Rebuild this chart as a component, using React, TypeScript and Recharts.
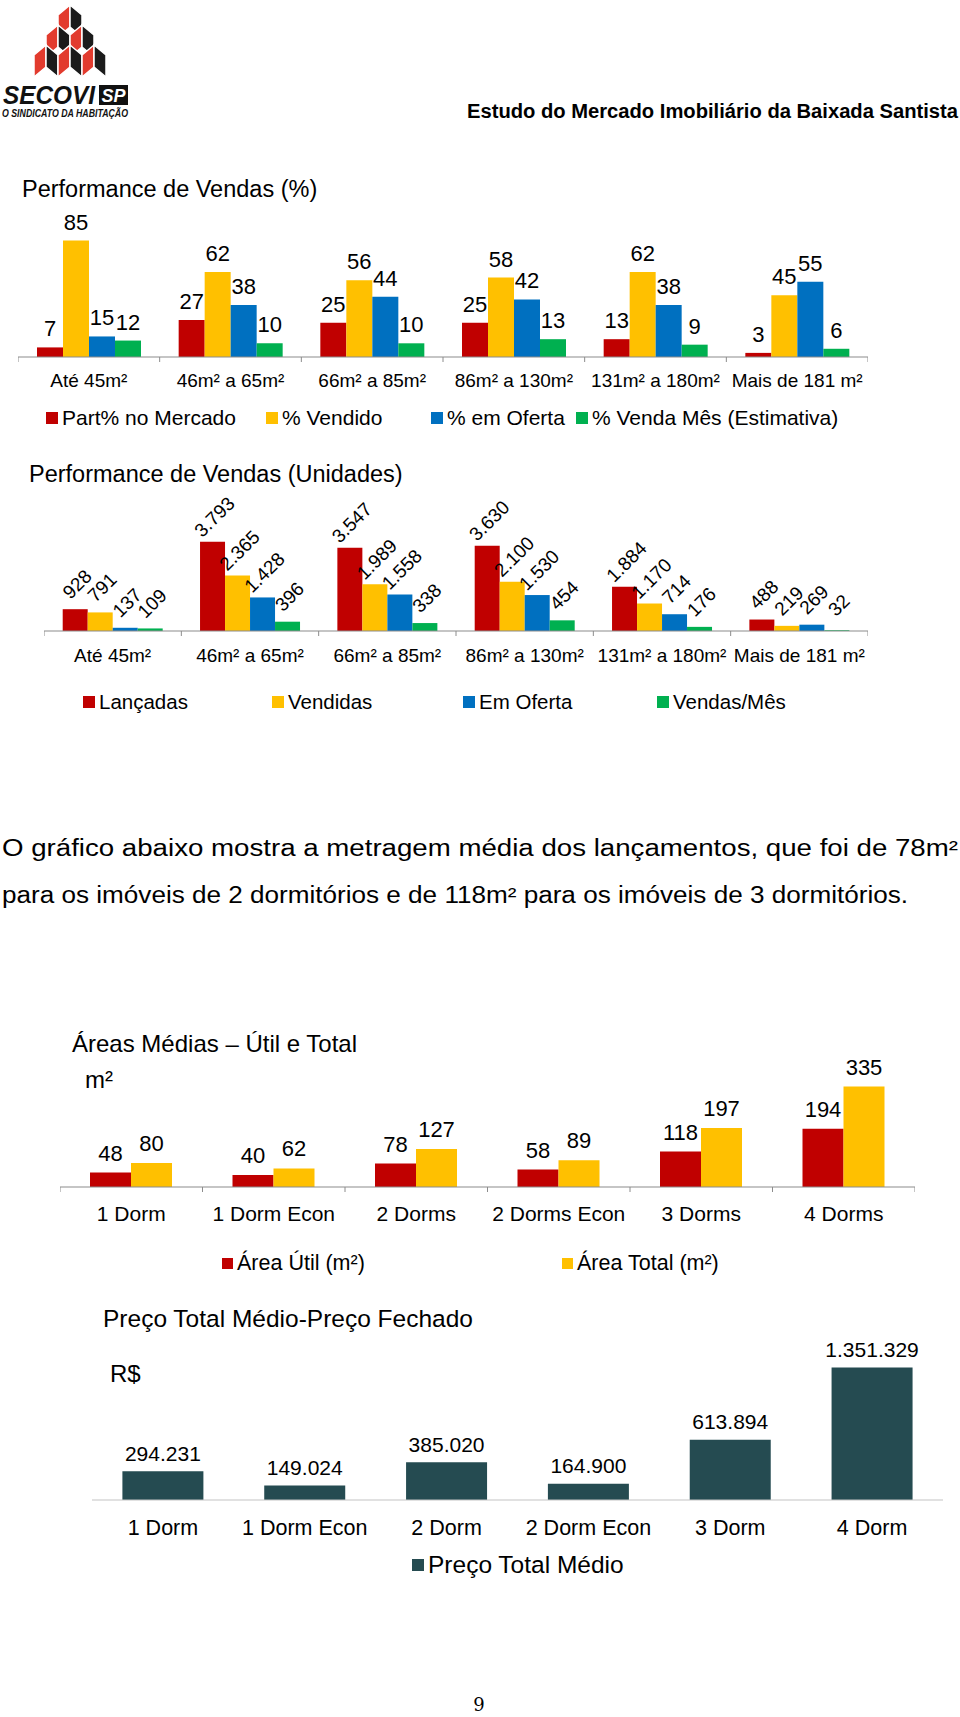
import React from "react";
import { BarChart, Bar, XAxis, YAxis, Legend, LabelList } from "recharts";

const FONT = "'Liberation Sans', Arial, Helvetica, sans-serif";

// Performance de Vendas (%) / (Unidades)
const faixas = ["Até 45m²", "46m² a 65m²", "66m² a 85m²", "86m² a 130m²", "131m² a 180m²", "Mais de 181 m²"];
const partMercado = [7, 27, 25, 25, 13, 3];
const pctVendido = [85, 62, 56, 58, 62, 45];
const pctOferta = [15, 38, 44, 42, 38, 55];
const pctVendaMes = [12, 10, 10, 13, 9, 6];

const lancadas = [928, 3793, 3547, 3630, 1884, 488];
const vendidas = [791, 2365, 1989, 2100, 1170, 219];
const emOferta = [137, 1428, 1558, 1530, 714, 269];
const vendasMes = [109, 396, 338, 454, 176, 32];

// Áreas médias
const tiposArea = ["1 Dorm", "1 Dorm Econ", "2 Dorms", "2 Dorms Econ", "3 Dorms", "4 Dorms"];
const areaUtil = [48, 40, 78, 58, 118, 194];
const areaTotal = [80, 62, 127, 89, 197, 335];

// Preço total médio
const tiposPreco = ["1 Dorm", "1 Dorm Econ", "2 Dorm", "2 Dorm Econ", "3 Dorm", "4 Dorm"];
const precoMedio = [294231, 149024, 385020, 164900, 613894, 1351329];

const RED = "#C00000";
const YELLOW = "#FFC000";
const BLUE = "#0070C0";
const GREEN = "#00B050";
const TEAL = "#254B51";

const fmtBR = (n: number) => String(n).replace(/\B(?=(\d{3})+(?!\d))/g, ".");

type Serie = { key: string; name: string; color: string };
type Cfg = {
  left: number; plotTop: number; width: number; plotH: number; yMax: number;
  marginTop: number; axisH: number; legendH: number; gap: number;
  tickFont: number; tickDy: number; boundaryTicks: boolean; axisColor: string;
  labelFont: number; labelOffset: number; rotated?: boolean;
  legendX: number[]; legendFont: number; legendIcon: number; legendCy: number;
};

function GroupedBars({ data, series, cfg }: { data: any[]; series: Serie[]; cfg: Cfg }) {
  const band = cfg.width / data.length;
  const height = cfg.marginTop + cfg.plotH + cfg.axisH + cfg.legendH;
  const last = data[data.length - 1].cat;

  const renderTick = (p: any) => {
    const { x, y, payload } = p;
    return (
      <g>
        {cfg.boundaryTicks && (
          <line x1={x - band / 2} x2={x - band / 2} y1={y} y2={y + 5} stroke={cfg.axisColor} />
        )}
        {cfg.boundaryTicks && payload.value === last && (
          <line x1={x + band / 2} x2={x + band / 2} y1={y} y2={y + 5} stroke={cfg.axisColor} />
        )}
        <text x={x} y={y + cfg.tickDy} textAnchor="middle" fontSize={cfg.tickFont} fontFamily={FONT} fill="#000">
          {payload.value}
        </text>
      </g>
    );
  };

  const renderLabel = (p: any) => {
    const vb = p.viewBox ?? p;
    const x = Number(vb.x ?? p.x);
    const y = Number(vb.y ?? p.y);
    const w = Number(vb.width ?? p.width);
    const cx = x + w / 2;
    if (cfg.rotated) {
      const lx = cx + 2;
      const ly = y - cfg.labelOffset;
      return (
        <text x={lx} y={ly} transform={`rotate(-45 ${lx} ${ly})`} textAnchor="middle" dominantBaseline="central"
          fontSize={cfg.labelFont} fontFamily={FONT} fill="#000">
          {fmtBR(Number(p.value))}
        </text>
      );
    }
    return (
      <text x={cx} y={y - cfg.labelOffset} textAnchor="middle" fontSize={cfg.labelFont} fontFamily={FONT} fill="#000">
        {fmtBR(Number(p.value))}
      </text>
    );
  };

  // keep the legend in series order (recharts sorts its payload by name)
  const renderLegend = (props: any) => {
    const payload = props.payload || [];
    const items = series.map((s) => {
      const it = payload.find((p: any) => p.dataKey === s.key);
      return { color: it?.color ?? s.color, value: it?.value ?? s.name };
    });
    const lineH = Math.round(cfg.legendFont * 1.2);
    return (
      <div style={{ position: "relative", width: cfg.width, height: cfg.legendH, fontFamily: FONT }}>
        {items.map((it, i) => (
          <div key={i} style={{
            position: "absolute", left: cfg.legendX[i], top: cfg.legendCy - lineH / 2, height: lineH,
            display: "flex", alignItems: "center", whiteSpace: "nowrap", fontSize: cfg.legendFont, color: "#000",
          }}>
            <span style={{ display: "inline-block", width: cfg.legendIcon, height: cfg.legendIcon, background: it.color, marginRight: 4 }} />
            {it.value}
          </div>
        ))}
      </div>
    );
  };

  return (
    <div style={{ position: "absolute", left: cfg.left, top: cfg.plotTop - cfg.marginTop }}>
      <BarChart width={cfg.width} height={height} data={data} barCategoryGap={cfg.gap} barGap={0}
        margin={{ top: cfg.marginTop, right: 0, left: 0, bottom: 0 }}>
        <XAxis dataKey="cat" height={cfg.axisH} interval={0} tickSize={0} tickMargin={0} tickLine={false}
          axisLine={{ stroke: cfg.axisColor, strokeWidth: 1.2 }} tick={renderTick} />
        <YAxis hide domain={[0, cfg.yMax]} />
        <Legend verticalAlign="bottom" height={cfg.legendH} content={renderLegend} />
        {series.map((s) => (
          <Bar key={s.key} dataKey={s.key} name={s.name} fill={s.color} isAnimationActive={false}>
            <LabelList dataKey={s.key} content={renderLabel} />
          </Bar>
        ))}
      </BarChart>
    </div>
  );
}

const pctData = faixas.map((cat, i) => ({ cat, part: partMercado[i], vend: pctVendido[i], ofe: pctOferta[i], mes: pctVendaMes[i] }));
const unidData = faixas.map((cat, i) => ({ cat, lanc: lancadas[i], vend: vendidas[i], ofe: emOferta[i], mes: vendasMes[i] }));
const areaData = tiposArea.map((cat, i) => ({ cat, util: areaUtil[i], total: areaTotal[i] }));
const precoData = tiposPreco.map((cat, i) => ({ cat, preco: precoMedio[i] }));

const cfg1: Cfg = {
  left: 18, plotTop: 220, width: 850, plotH: 137, yMax: 100, marginTop: 28, axisH: 40, legendH: 36, gap: 19,
  tickFont: 19, tickDy: 29.5, boundaryTicks: true, axisColor: "#8c8c8c", labelFont: 22, labelOffset: 11,
  legendX: [28, 248, 413, 558], legendFont: 21, legendIcon: 12, legendCy: 21,
};
const cfg2: Cfg = {
  left: 44, plotTop: 537, width: 824, plotH: 94, yMax: 4000, marginTop: 48, axisH: 40, legendH: 46, gap: 18.7,
  tickFont: 19, tickDy: 30.5, boundaryTicks: true, axisColor: "#8c8c8c", labelFont: 19, labelOffset: 25, rotated: true,
  legendX: [39, 228, 419, 613], legendFont: 20.5, legendIcon: 12, legendCy: 31,
};
const cfg3: Cfg = {
  left: 60, plotTop: 1067, width: 855, plotH: 120, yMax: 400, marginTop: 20, axisH: 46, legendH: 46, gap: 30,
  tickFont: 21, tickDy: 33.5, boundaryTicks: true, axisColor: "#8c8c8c", labelFont: 22, labelOffset: 12,
  legendX: [162, 502], legendFont: 21.5, legendIcon: 11, legendCy: 30,
};
const cfg4: Cfg = {
  left: 92, plotTop: 1353, width: 851, plotH: 147, yMax: 1500000, marginTop: 15, axisH: 46, legendH: 40, gap: 30.4,
  tickFont: 21.5, tickDy: 34.5, boundaryTicks: false, axisColor: "#c4c4c4", labelFont: 21, labelOffset: 10.5,
  legendX: [320], legendFont: 24.5, legendIcon: 12, legendCy: 19,
};

function Logo() {
  const faces: React.ReactNode[] = [];
  for (let i = 0; i < 3; i++) {
    for (let j = 0; j <= i; j++) {
      const cx = 70 + (j - i / 2) * 24;
      const ty = 5 + i * 20;
      faces.push(
        <polygon key={`l${i}${j}`} points={`${cx},${ty} ${cx - 12},${ty + 10} ${cx - 12},${ty + 32} ${cx},${ty + 22}`}
          fill="#E23B2E" stroke="#fff" strokeWidth={1.5} />,
        <polygon key={`r${i}${j}`} points={`${cx},${ty} ${cx + 12},${ty + 10} ${cx + 12},${ty + 32} ${cx},${ty + 22}`}
          fill="#1b1b1b" stroke="#fff" strokeWidth={1.5} />
      );
    }
  }
  return (
    <g>
      {faces}
      <text x={3} y={104} fontSize={25} fontWeight="bold" fontStyle="italic" fontFamily={FONT} textLength={92}
        lengthAdjust="spacingAndGlyphs" fill="#111">SECOVI</text>
      <rect x={99} y={85} width={29} height={20} fill="#111" />
      <text x={113.5} y={102} fontSize={18} fontWeight="bold" fontStyle="italic" fontFamily={FONT} textAnchor="middle" fill="#fff">SP</text>
      <text x={2} y={117} fontSize={10} fontWeight="bold" fontStyle="italic" fontFamily={FONT} textLength={126}
        lengthAdjust="spacingAndGlyphs" fill="#111">O SINDICATO DA HABITAÇÃO</text>
    </g>
  );
}

export default function App() {
  return (
    <div style={{ position: "absolute", left: 0, top: 0, width: 960, height: 1717, background: "#fff", overflow: "hidden" }}>
      <GroupedBars data={pctData} cfg={cfg1} series={[
        { key: "part", name: "Part% no Mercado", color: RED },
        { key: "vend", name: "% Vendido", color: YELLOW },
        { key: "ofe", name: "% em Oferta", color: BLUE },
        { key: "mes", name: "% Venda Mês (Estimativa)", color: GREEN },
      ]} />
      <GroupedBars data={unidData} cfg={cfg2} series={[
        { key: "lanc", name: "Lançadas", color: RED },
        { key: "vend", name: "Vendidas", color: YELLOW },
        { key: "ofe", name: "Em Oferta", color: BLUE },
        { key: "mes", name: "Vendas/Mês", color: GREEN },
      ]} />
      <GroupedBars data={areaData} cfg={cfg3} series={[
        { key: "util", name: "Área Útil (m²)", color: RED },
        { key: "total", name: "Área Total (m²)", color: YELLOW },
      ]} />
      <GroupedBars data={precoData} cfg={cfg4} series={[
        { key: "preco", name: "Preço Total Médio", color: TEAL },
      ]} />

      <svg width={960} height={1717} style={{ position: "absolute", left: 0, top: 0, pointerEvents: "none" }}>
        <Logo />
        <text x={467} y={118} fontSize={20} fontWeight="bold" fontFamily={FONT} textLength={491}
          lengthAdjust="spacingAndGlyphs" fill="#000">Estudo do Mercado Imobiliário da Baixada Santista</text>

        <text x={22} y={197} fontSize={23.5} fontFamily={FONT} fill="#000">Performance de Vendas (%)</text>
        <text x={29} y={482} fontSize={23.5} fontFamily={FONT} fill="#000">Performance de Vendas (Unidades)</text>

        <text x={2} y={856} fontSize={23} fontFamily={FONT} textLength={956} lengthAdjust="spacingAndGlyphs" fill="#000">
          O gráfico abaixo mostra a metragem média dos lançamentos, que foi de 78m²
        </text>
        <text x={2} y={903} fontSize={23} fontFamily={FONT} textLength={906} lengthAdjust="spacingAndGlyphs" fill="#000">
          para os imóveis de 2 dormitórios e de 118m² para os imóveis de 3 dormitórios.
        </text>

        <text x={72} y={1052} fontSize={24} fontFamily={FONT} fill="#000">Áreas Médias – Útil e Total</text>
        <text x={85} y={1088} fontSize={24} fontFamily={FONT} fill="#000">m²</text>

        <text x={103} y={1327} fontSize={24.5} fontFamily={FONT} fill="#000">Preço Total Médio-Preço Fechado</text>
        <text x={110} y={1382} fontSize={24} fontFamily={FONT} fill="#000">R$</text>

        <text x={479} y={1711} fontSize={18} fontFamily="'DejaVu Serif', 'Liberation Serif', serif" textAnchor="middle" fill="#000">9</text>
      </svg>
    </div>
  );
}
